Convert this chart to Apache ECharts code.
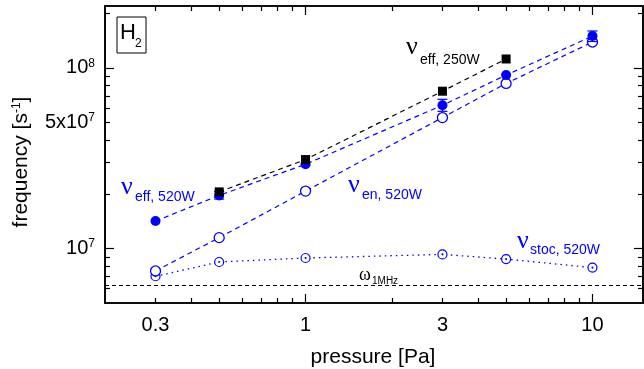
<!DOCTYPE html>
<html>
<head>
<meta charset="utf-8">
<script src="https://cdn.jsdelivr.net/npm/echarts@6/dist/echarts.min.js"></script>
<style>html,body{margin:0;padding:0;background:#fff}#c{width:644px;height:369px}</style>
</head>
<body>
<div id="c"></div>
<script>
// ---- data ----
var pressure250 = [0.5, 1, 3, 5];
var nuEff250 = [2.06e7, 3.11e7, 7.43e7, 1.12e8];
var pressure520 = [0.3, 0.5, 1, 3, 5, 10];
var nuEff520 = [1.42e7, 1.97e7, 2.93e7, 6.21e7, 9.12e7, 1.50e8];
var nuEff520ErrLow = [null, 1.88e7, null, 5.75e7, null, 1.40e8];
var nuEff520ErrHigh = [null, 2.07e7, null, 6.70e7, null, 1.60e8];
var nuEn520 = [7.52e6, 1.15e7, 2.08e7, 5.31e7, 8.2e7, 1.39e8];
var nuStoc520 = [7.03e6, 8.43e6, 8.87e6, 9.29e6, 8.75e6, 7.85e6];
var omega1MHz = 6.28e6;

var xMin = 0.2, xMax = 15;
var yMin = 5e6, yMax = 2.2e8;
var xMajorTicks = [1, 10];
var xMinorTicks = [0.3, 0.4, 0.5, 0.6, 0.7, 0.8, 0.9, 2, 3, 4, 5, 6, 7, 8, 9];
var xTickLabels = [0.3, 1, 3, 10];
var xTickText = ['0.3', '1', '3', '10'];
var yMajorTicks = [1e7, 1e8];
var yMinorTicks = [6e6, 7e6, 8e6, 9e6, 2e7, 3e7, 4e7, 5e7, 6e7, 7e7, 8e7, 9e7, 2e8];
var yTickLabels = [1e7, 5e7, 1e8];
var yTickText = ['10{sup|7}', '5x10{sup|7}', '10{sup|8}'];

// ---- chart ----
var BLUE = '#0000ff';
var FONT = 'Liberation Sans, Arial, sans-serif';
function pairs(xs, ys) { return xs.map(function (x, i) { return [x, ys[i]]; }); }

function xAxisDef(pos, ticks, len, labels) {
  return {
    type: 'log', logBase: 10, min: xMin, max: xMax, position: pos,
    axisLine: { show: true, onZero: false, lineStyle: { color: '#000', width: 1.6 } },
    axisTick: { show: true, inside: true, length: len, customValues: ticks, lineStyle: { color: '#000', width: 1.2 } },
    axisLabel: labels ? {
      show: true, customValues: xTickLabels, margin: 12, color: '#000', fontFamily: FONT, fontSize: 20,
      formatter: function (v) { var i = xTickLabels.findIndex(function (t) { return Math.abs(t - v) / t < 1e-6; }); return i >= 0 ? xTickText[i] : ''; }
    } : { show: false },
    splitLine: { show: false }, minorTick: { show: false }
  };
}
function yAxisDef(pos, ticks, len, labels) {
  return {
    type: 'log', logBase: 10, min: yMin, max: yMax, position: pos,
    axisLine: { show: true, onZero: false, lineStyle: { color: '#000', width: 1.6 } },
    axisTick: { show: true, inside: true, length: len, customValues: ticks, lineStyle: { color: '#000', width: 1.2 } },
    axisLabel: labels ? {
      show: true, customValues: yTickLabels, margin: 10, color: '#000', fontFamily: FONT, fontSize: 20,
      formatter: function (v) { var i = yTickLabels.findIndex(function (t) { return Math.abs(t - v) / t < 1e-6; }); return i >= 0 ? yTickText[i] : ''; },
      rich: { sup: { fontSize: 12, fontFamily: FONT, color: '#000', verticalAlign: 'top', padding: [0, 0, 9, 0] } }
    } : { show: false },
    splitLine: { show: false }, minorTick: { show: false }
  };
}

var chart = echarts.init(document.getElementById('c'), null, { renderer: 'canvas' });

var stocSymbol = 'path://M10,0A10,10,0,1,1,9.99,0ZM10,9A1,1,0,1,1,9.99,9Z';

var option = {
  animation: false,
  grid: { left: 105, right: 1, top: 6, bottom: 66, containLabel: false },
  xAxis: [
    xAxisDef('bottom', xMajorTicks, 9, true),
    xAxisDef('bottom', xMinorTicks, 5, false),
    xAxisDef('top', xMajorTicks, 9, false),
    xAxisDef('top', xMinorTicks, 5, false)
  ],
  yAxis: [
    yAxisDef('left', yMajorTicks, 9, true),
    yAxisDef('left', yMinorTicks, 5, false),
    yAxisDef('right', yMajorTicks, 9, false),
    yAxisDef('right', yMinorTicks, 5, false)
  ],
  series: [
    {
      type: 'line', name: 'stoc', data: pairs(pressure520, nuStoc520),
      symbol: stocSymbol, symbolSize: 9, symbolKeepAspect: true,
      itemStyle: { color: '#fff', borderColor: BLUE, borderWidth: 1.2 },
      lineStyle: { color: BLUE, width: 1.3, type: [1.5, 4] }, z: 3,
      markLine: {
        silent: true, symbol: 'none', label: { show: false },
        lineStyle: { color: '#000', width: 1, type: [4, 3] },
        data: [{ yAxis: omega1MHz }]
      }
    },
    {
      type: 'line', name: 'en', data: pairs(pressure520, nuEn520),
      symbol: 'circle', symbolSize: 10,
      itemStyle: { color: '#fff', borderColor: BLUE, borderWidth: 1.3 },
      lineStyle: { color: BLUE, width: 1.2, type: [5, 4] }, z: 3
    },
    {
      type: 'custom', name: 'errEff520',
      data: pressure520.map(function (x, i) { return [x, nuEff520ErrLow[i], nuEff520ErrHigh[i]]; }).filter(function (d) { return d[1] != null; }),
      renderItem: function (params, api) {
        var lo = api.coord([api.value(0), api.value(1)]);
        var hi = api.coord([api.value(0), api.value(2)]);
        var w = 5;
        var st = { stroke: BLUE, lineWidth: 1.2 };
        return { type: 'group', children: [
          { type: 'line', shape: { x1: lo[0], y1: lo[1], x2: hi[0], y2: hi[1] }, style: st },
          { type: 'line', shape: { x1: lo[0] - w, y1: lo[1], x2: lo[0] + w, y2: lo[1] }, style: st },
          { type: 'line', shape: { x1: hi[0] - w, y1: hi[1], x2: hi[0] + w, y2: hi[1] }, style: st }
        ] };
      }, z: 4
    },
    {
      type: 'line', name: 'eff520', data: pairs(pressure520, nuEff520),
      symbol: 'circle', symbolSize: 10,
      itemStyle: { color: BLUE },
      lineStyle: { color: BLUE, width: 1.2, type: [5, 4] }, z: 5
    },
    {
      type: 'line', name: 'eff250', data: pairs(pressure250, nuEff250),
      symbol: 'rect', symbolSize: 9,
      itemStyle: { color: '#000' },
      lineStyle: { color: '#000', width: 1.2, type: [5, 4] }, z: 6
    }
  ],
  graphic: [
    { type: 'rect', shape: { x: 117, y: 17, width: 29, height: 36 }, style: { fill: '#fff', stroke: '#000', lineWidth: 1 }, z: 10 },
    { type: 'text', x: 120, y: 33, style: { text: 'H', fontFamily: FONT, fontSize: 22, fill: '#000', verticalAlign: 'middle' }, z: 11 },
    { type: 'text', x: 135, y: 44, style: { text: '2', fontFamily: FONT, fontSize: 12, fill: '#000', verticalAlign: 'middle' }, z: 11 },

    { type: 'text', x: 406, y: 47, style: { text: 'ν', fontFamily: 'Liberation Serif, serif', fontSize: 26, fill: '#000', verticalAlign: 'middle' }, z: 11 },
    { type: 'text', x: 420, y: 60, style: { text: 'eff, 250W', fontFamily: FONT, fontSize: 14, fill: '#000', verticalAlign: 'middle' }, z: 11 },

    { type: 'text', x: 121, y: 187, style: { text: 'ν', fontFamily: 'Liberation Serif, serif', fontSize: 26, fill: BLUE, verticalAlign: 'middle' }, z: 11 },
    { type: 'text', x: 135, y: 197, style: { text: 'eff, 520W', fontFamily: FONT, fontSize: 14, fill: BLUE, verticalAlign: 'middle' }, z: 11 },

    { type: 'text', x: 348, y: 185, style: { text: 'ν', fontFamily: 'Liberation Serif, serif', fontSize: 26, fill: BLUE, verticalAlign: 'middle' }, z: 11 },
    { type: 'text', x: 362, y: 195, style: { text: 'en, 520W', fontFamily: FONT, fontSize: 14, fill: BLUE, verticalAlign: 'middle' }, z: 11 },

    { type: 'text', x: 517, y: 241, style: { text: 'ν', fontFamily: 'Liberation Serif, serif', fontSize: 26, fill: BLUE, verticalAlign: 'middle' }, z: 11 },
    { type: 'text', x: 530, y: 250, style: { text: 'stoc, 520W', fontFamily: FONT, fontSize: 14, fill: BLUE, verticalAlign: 'middle' }, z: 11 },

    { type: 'text', x: 359, y: 275, style: { text: 'ω', fontFamily: 'Liberation Serif, serif', fontSize: 18, fill: '#000', verticalAlign: 'middle' }, z: 11 },
    { type: 'text', x: 372, y: 281, style: { text: '1MHz', fontFamily: FONT, fontSize: 10, fill: '#000', verticalAlign: 'middle' }, z: 11 },

    { type: 'text', x: 373, y: 357, style: { text: 'pressure [Pa]', fontFamily: FONT, fontSize: 21, fill: '#000', align: 'center', verticalAlign: 'middle' } },
    { type: 'text', x: 21, y: 162, rotation: Math.PI / 2,
      style: { text: 'frequency [s{sup|-1}]', fontFamily: FONT, fontSize: 21, fill: '#000', align: 'center', verticalAlign: 'middle',
        rich: { sup: { fontSize: 12, fontFamily: FONT, fill: '#000', verticalAlign: 'top', padding: [0, 0, 9, 0] } } } }
  ]
};
chart.setOption(option);
</script>
</body>
</html>
